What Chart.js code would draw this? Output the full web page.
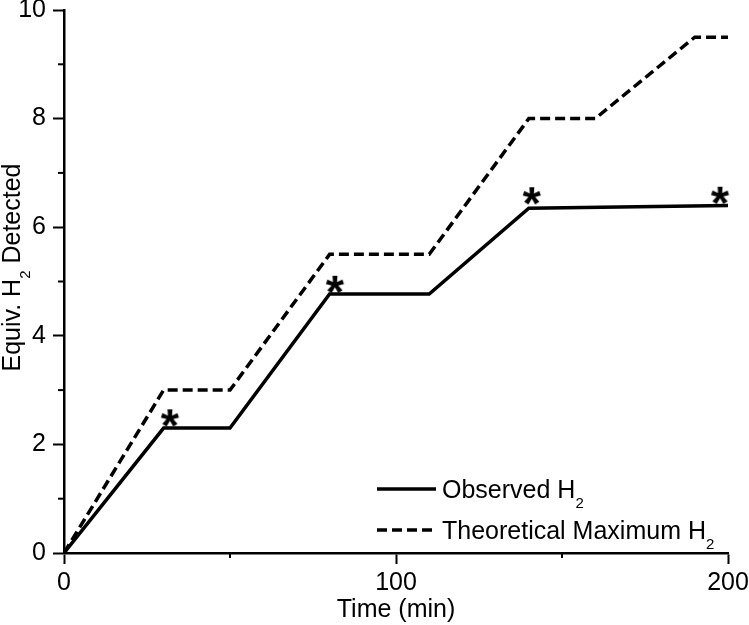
<!DOCTYPE html>
<html>
<head>
<meta charset="utf-8">
<script src="https://cdn.jsdelivr.net/npm/chart.js@4/dist/chart.umd.min.js"></script>
<style>
  html, body { margin: 0; padding: 0; background: #fff; }
  #wrap { width: 749px; height: 625px; }
</style>
</head>
<body>
<div id="wrap"><canvas id="chart" width="749" height="625"></canvas></div>
<script>
// values
var obsTime = [0, 30, 50, 80, 110, 140, 200];
var obsH2 = [0, 2.3, 2.3, 4.77, 4.77, 6.35, 6.4];
var theoTime = [0, 30, 50, 80, 110, 140, 160, 190, 200];
var theoH2 = [0, 3, 3, 5.5, 5.5, 8, 8, 9.5, 9.5];
// asterisk markers
var starTime = [32, 81.7, 141, 197.7];
var starH2 = [2.48, 4.94, 6.57, 6.58];
var xMinorTicks = [50, 150];
var yMinorTicks = [1, 3, 5, 7, 9];

var FONT = "'Liberation Sans', Arial, sans-serif";

function pairs(xs, ys){
    return xs.map(function(x, i){ return {x: x, y: ys[i]}; });
}

// "*" drawn once onto a small canvas and used as the point style
function makeStar(){
    var c = document.createElement('canvas');
    c.width = 26; c.height = 26;
    var g = c.getContext('2d');
    g.font = "bold 47px " + FONT;
    var m = g.measureText('*');
    var w = m.actualBoundingBoxRight + m.actualBoundingBoxLeft;
    var h = m.actualBoundingBoxAscent + m.actualBoundingBoxDescent;
    g.fillStyle = '#000';
    g.fillText('*', 13 - w / 2 + m.actualBoundingBoxLeft, 13 - h / 2 + m.actualBoundingBoxAscent);
    return c;
}

function textWithSub(ctx, parts, x, y){
    // parts: [text, sub, text, ...]
    var cx = x;
    parts.forEach(function(p){
        if (p.sub){
            ctx.font = "15px " + FONT;
            ctx.fillText(p.t, cx, y + 10);
        } else {
            ctx.font = "25px " + FONT;
            ctx.fillText(p.t, cx, y);
        }
        cx += ctx.measureText(p.t).width;
    });
}

var extras = {
    id: 'extras',
    afterDraw: function(chart){
        var ctx = chart.ctx;
        var xs = chart.scales.x, ys = chart.scales.y;
        ctx.save();
        ctx.strokeStyle = '#000';
        ctx.lineWidth = 2;
        // minor ticks
        xMinorTicks.forEach(function(v){
            var px = xs.getPixelForValue(v);
            ctx.beginPath(); ctx.moveTo(px, xs.top); ctx.lineTo(px, xs.top + 5); ctx.stroke();
        });
        yMinorTicks.forEach(function(v){
            var py = ys.getPixelForValue(v);
            ctx.beginPath(); ctx.moveTo(ys.right - 6, py); ctx.lineTo(ys.right, py); ctx.stroke();
        });

        // legend
        var ds = chart.data.datasets;
        var lx = chart.chartArea.left + 313;
        var rows = [489, 530];
        ctx.fillStyle = '#000';
        ctx.textBaseline = 'alphabetic';
        ctx.textAlign = 'left';
        [0, 1].forEach(function(i){
            ctx.lineWidth = ds[i].borderWidth;
            ctx.setLineDash(ds[i].borderDash || []);
            ctx.beginPath(); ctx.moveTo(lx, rows[i]); ctx.lineTo(lx + 59, rows[i]); ctx.stroke();
            ctx.setLineDash([]);
            textWithSub(ctx, [{t: ds[i].label.replace(' H2', ' H')}, {t: '2', sub: true}], lx + 65, rows[i] + 9);
        });

        // y title
        var cy = (chart.chartArea.top + chart.chartArea.bottom) / 2 - 14;
        ctx.translate(20, cy);
        ctx.rotate(-Math.PI / 2);
        ctx.font = "25px " + FONT;
        var total = ctx.measureText('Equiv. H Detected').width;
        ctx.font = "15px " + FONT;
        total += ctx.measureText('2').width;
        textWithSub(ctx, [{t: 'Equiv. H'}, {t: '2', sub: true}, {t: ' Detected'}], -total / 2, 0);
        ctx.restore();
    }
};

var chart = new Chart(document.getElementById('chart'), {
    type: 'scatter',
    data: {
        datasets: [
            {
                label: 'Observed H2',
                data: pairs(obsTime, obsH2),
                showLine: true,
                borderColor: '#000',
                borderWidth: 3.5,
                pointRadius: 0,
                tension: 0
            },
            {
                label: 'Theoretical Maximum H2',
                data: pairs(theoTime, theoH2),
                showLine: true,
                borderColor: '#000',
                borderWidth: 3.5,
                borderDash: [10, 5],
                pointRadius: 0,
                tension: 0
            },
            {
                label: 'stars',
                data: pairs(starTime, starH2),
                showLine: false,
                pointStyle: makeStar(),
                pointRadius: 9,
                clip: false
            }
        ]
    },
    options: {
        responsive: false,
        animation: false,
        layout: { padding: { top: 10, right: 21, left: 0, bottom: 0 } },
        plugins: { legend: { display: false }, tooltip: { enabled: false } },
        scales: {
            x: {
                type: 'linear',
                min: 0, max: 200,
                ticks: { stepSize: 100, color: '#000', padding: 4, font: { size: 25, family: FONT }, maxRotation: 0 },
                grid: { drawOnChartArea: false, tickLength: 11, tickColor: '#000', tickWidth: 2 },
                border: { color: '#000', width: 2.5 },
                title: { display: true, text: 'Time (min)', color: '#000', font: { size: 25, family: FONT }, padding: 0 },
                afterFit: function(s){ s.height = 72; s.paddingLeft = 0; s.paddingRight = 0; }
            },
            y: {
                min: 0, max: 10,
                ticks: { stepSize: 2, color: '#000', padding: 7, font: { size: 25, family: FONT } },
                grid: { drawOnChartArea: false, tickLength: 11, tickColor: '#000', tickWidth: 2 },
                border: { color: '#000', width: 2.5 },
                afterFit: function(s){ s.width = 64; s.paddingTop = 0; s.paddingBottom = 0; }
            }
        }
    },
    plugins: [extras]
});
</script>
</body>
</html>
